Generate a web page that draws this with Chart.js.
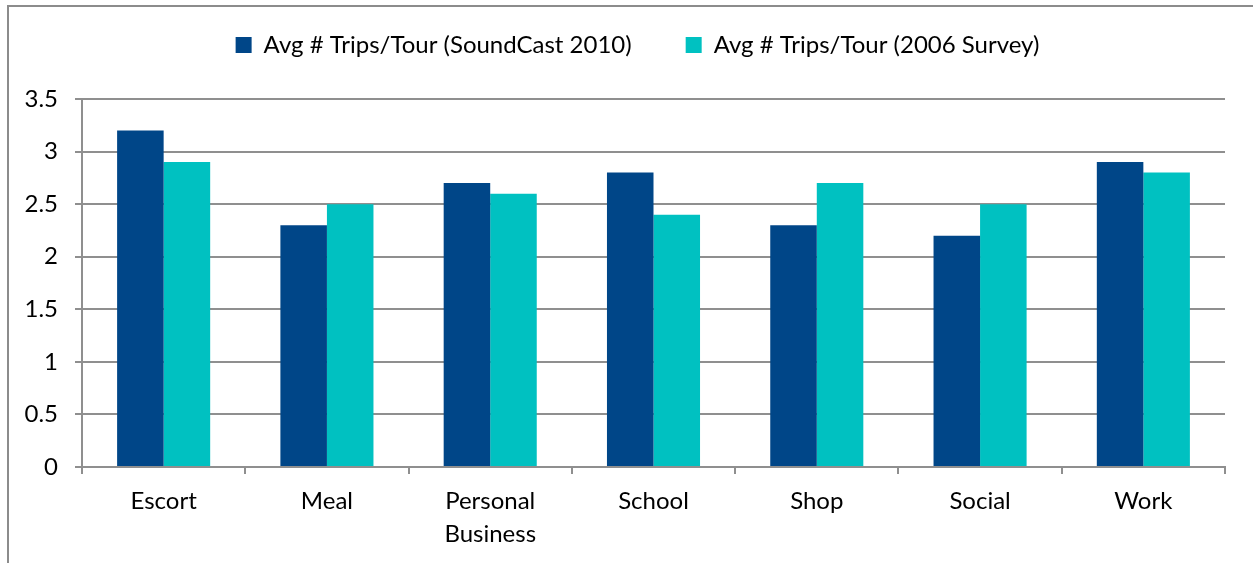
<!DOCTYPE html>
<html>
<head>
<meta charset="utf-8">
<script src="https://cdn.jsdelivr.net/npm/chart.js@4.4.1/dist/chart.umd.min.js"></script>
<style>
  html, body { margin: 0; padding: 0; background: #fff; overflow: hidden; }
  #frame {
    position: absolute; left: 7px; top: 5px; width: 1300px; height: 600px;
    border-left: 2px solid #8c8c8c; border-top: 2px solid #8c8c8c;
  }
  #wrap { position: absolute; left: 0; top: 0; width: 1253px; height: 563px; }
</style>
</head>
<body>
<div id="frame"></div>
<div id="wrap"><canvas id="tripsChart"></canvas></div>
<script>
// Số chuyến trung bình mỗi tour theo mục đích
const categories = ['Escort', 'Meal', ['Personal', 'Business'], 'School', 'Shop', 'Social', 'Work'];
const soundCast2010 = [3.2, 2.3, 2.7, 2.8, 2.3, 2.2, 2.9];
const survey2006 = [2.9, 2.5, 2.6, 2.4, 2.7, 2.5, 2.8];
const yTicks = [0, 0.5, 1, 1.5, 2, 2.5, 3, 3.5];

const font = { family: 'Lato', size: 24, lineHeight: 1.4 };
const gridColor = '#8f8f8f';

// Legend cao hơn mặc định và lệch sang phải một chút
const legendTweak = {
    id: 'legendTweak',
    beforeInit(chart) {
        const fit = chart.legend.fit;
        chart.legend.fit = function () {
            fit.bind(this)();
            this.height = 120;
        };
    },
    afterLayout(chart) {
        chart.legend.left += 50;
    }
};

const ctx = document.getElementById('tripsChart').getContext('2d');
new Chart(ctx, {
    type: 'bar',
    data: {
        labels: categories,
        datasets: [{
            label: 'Avg # Trips/Tour (SoundCast 2010)',
            data: soundCast2010,
            backgroundColor: '#004688'
        }, {
            label: 'Avg # Trips/Tour (2006 Survey)',
            data: survey2006,
            backgroundColor: '#00c1c1'
        }]
    },
    options: {
        responsive: true,
        maintainAspectRatio: false,
        animation: false,
        layout: { padding: { left: 0, right: 28, top: -21, bottom: 0 } },
        datasets: { bar: { categoryPercentage: 0.57, barPercentage: 1 } },
        plugins: {
            legend: {
                position: 'top',
                labels: {
                    font: { family: 'Lato', size: 24 },
                    color: '#000',
                    boxWidth: 16,
                    boxHeight: 16,
                    padding: 54
                }
            },
            tooltip: { enabled: false }
        },
        scales: {
            x: {
                afterFit: s => { s.height = 96; },
                grid: {
                    drawOnChartArea: false,
                    drawTicks: true,
                    tickLength: 7,
                    color: gridColor,
                    lineWidth: 2
                },
                border: { color: gridColor, width: 2 },
                ticks: { font: font, color: '#000', padding: 10, maxRotation: 0 }
            },
            y: {
                min: 0,
                max: 3.5,
                afterFit: s => { s.width = 82; },
                afterBuildTicks: s => { s.ticks = yTicks.map(v => ({ value: v })); },
                grid: { color: gridColor, lineWidth: 2, tickLength: 7 },
                border: { color: gridColor, width: 2 },
                ticks: {
                    font: { family: 'Lato', size: 24 },
                    color: '#000',
                    padding: 17,
                    callback: v => String(v)
                }
            }
        }
    },
    plugins: [legendTweak]
});
</script>
</body>
</html>
